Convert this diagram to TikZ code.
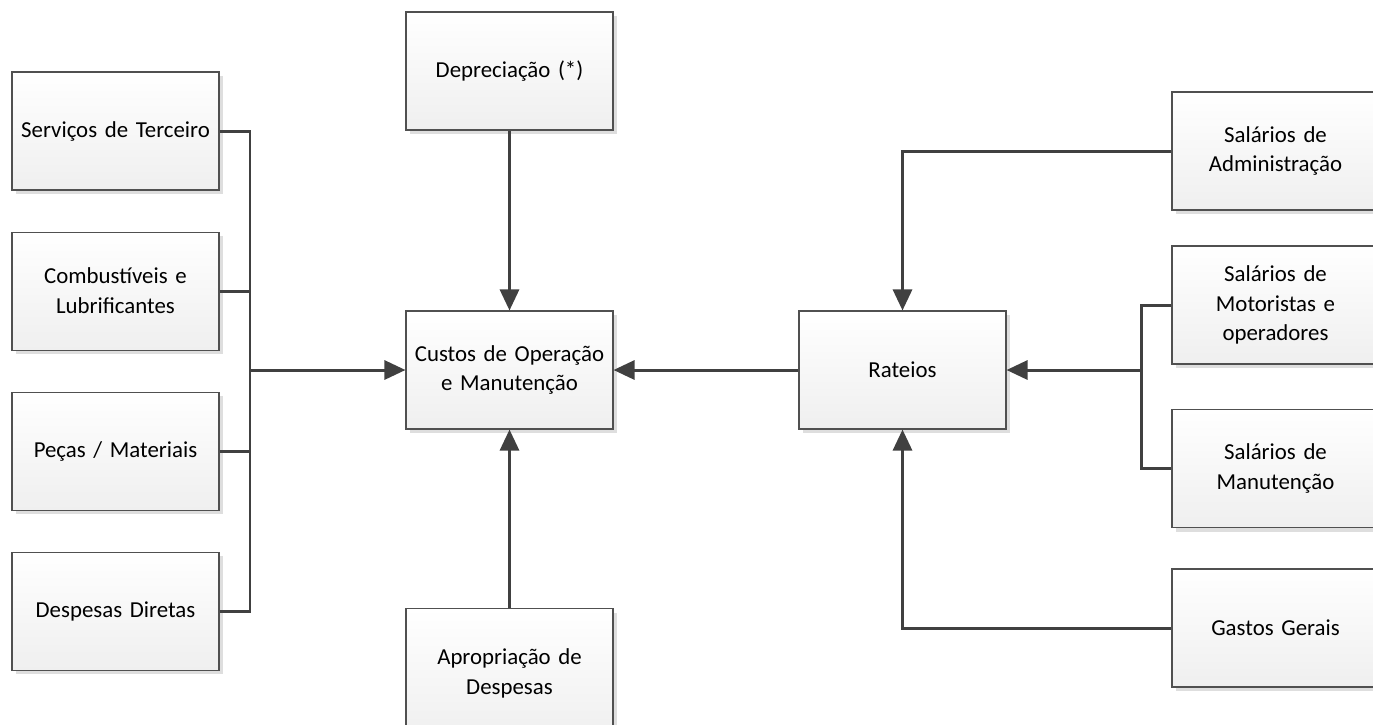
\documentclass[tikz,border=0pt]{standalone}
\usepackage{fontspec}
\setmainfont{Carlito}
\usetikzlibrary{positioning,arrows.meta,shadows}

\definecolor{linegray}{HTML}{404040}
\definecolor{boxline}{HTML}{505050}
\definecolor{boxbottom}{HTML}{EFEFEF}

\begin{document}
\begin{tikzpicture}[
    font=\fontsize{13}{17}\selectfont,
    node distance=8.2mm and 9mm,
    costbox/.style = {rectangle, draw=boxline, line width=0.6pt,
                      top color=white, bottom color=boxbottom,
                      align=center, minimum width=41.4mm, minimum height=23.6mm,
                      inner sep=0.5mm, text width=40.4mm,
                      drop shadow={shadow xshift=0.8mm, shadow yshift=-0.8mm,
                                   fill=black!13, opacity=1}},
    link/.style    = {draw=linegray, line width=1.7pt},
    flow/.style    = {link, -{Triangle[length=4.2mm, width=3.8mm]}}
]

\useasboundingbox (0,0) rectangle (27.46,-14.48);
\clip (0,0) rectangle (27.46,-14.48);

% --- Left column: direct costs ----------------------------------------------
\node[costbox] at (2.31,-2.62)      (servicos) {Serviços de Terceiro};
\node[costbox, below=of servicos]   (combust)  {Combustíveis e\\ Lubrificantes};
\node[costbox, below=of combust]    (pecas)    {Peças / Materiais};
\node[costbox, below=of pecas]      (diretas)  {Despesas Diretas};

% --- Centre column ----------------------------------------------------------
\node[costbox] at (10.19,-7.40)     (custos)   {Custos de Operação\\ e Manutenção};
\node[costbox] at (10.19,-1.42)     (deprec)   {Depreciação (*)};
\node[costbox, minimum height=26mm, anchor=north] at (10.19,-12.16)
                                    (apropr)   {Apropriação de\\ Despesas};

% --- Apportionment ----------------------------------------------------------
\node[costbox] at (18.05,-7.40)     (rateios)  {Rateios};

% --- Right column -----------------------------------------------------------
\node[costbox] at (25.51,-3.02)     (admin)    {Salários de\\ Administração};
\node[costbox] at (25.51,-6.10)     (motor)    {Salários de\\ Motoristas e\\ operadores};
\node[costbox] at (25.51,-9.37)     (manut)    {Salários de\\ Manutenção};
\node[costbox] at (25.51,-12.56)    (gastos)   {Gastos Gerais};

% --- Collector on the left --------------------------------------------------
\coordinate (lbus) at (5.00,-7.40);
\draw[link] (servicos.east) -| (lbus);
\draw[link] (diretas.east)  -| (lbus);
\draw[link] (combust.east)  -- (combust.east -| lbus);
\draw[link] (pecas.east)    -- (pecas.east -| lbus);
\draw[flow] (lbus) -- (custos.west);

% --- Centre flows -----------------------------------------------------------
\draw[flow] (deprec.south) -- (custos.north);
\draw[flow] (apropr.north) -- (custos.south);
\draw[flow] (rateios.west) -- (custos.east);

% --- Right side into Rateios ------------------------------------------------
\draw[flow] (admin.west)  -| (rateios.north);
\draw[flow] (gastos.west) -| (rateios.south);

\coordinate (rbus) at (22.82,-7.40);
\draw[link] (motor.west) -| (rbus);
\draw[link] (manut.west) -| (rbus);
\draw[flow] (rbus) -- (rateios.east);

\end{tikzpicture}
\end{document}
